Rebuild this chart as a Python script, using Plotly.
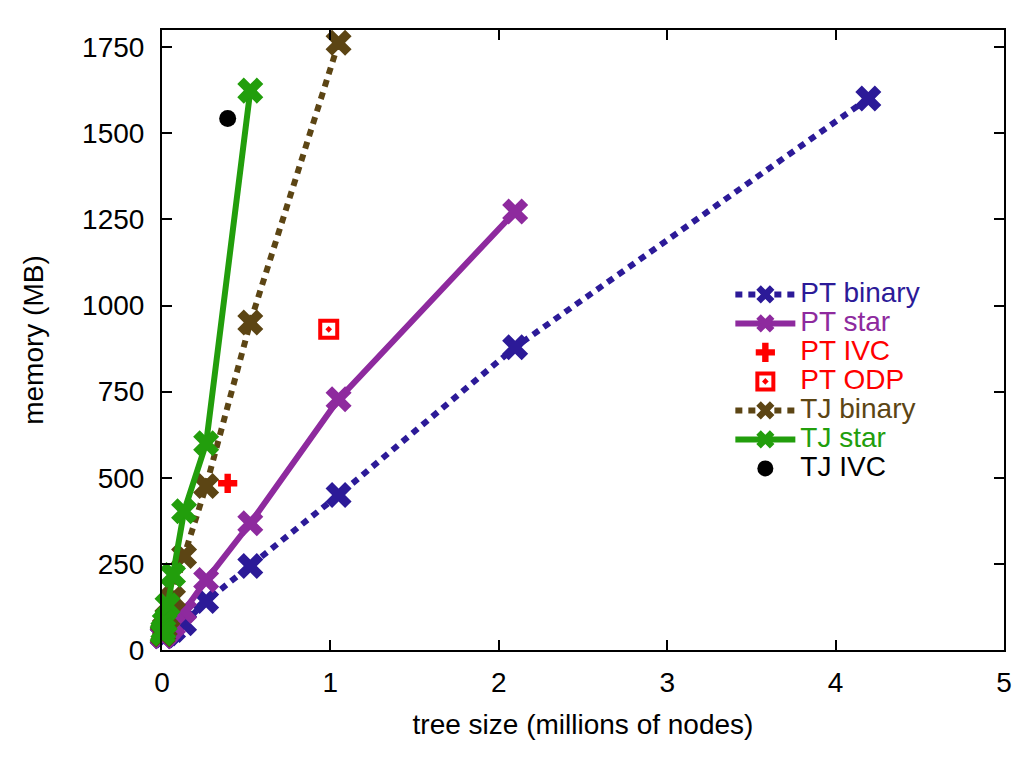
import plotly.graph_objects as go

# tree sizes (millions of nodes), powers of two
sizes_pt_binary = [2**k / 1e6 for k in range(22, 11, -1)]
mem_pt_binary = [1601, 879, 450, 244, 142, 78, 58, 48, 43, 41, 40]

sizes_pt_star = [2**k / 1e6 for k in range(21, 11, -1)]
mem_pt_star = [1273, 728, 368, 203, 113, 72, 55, 46, 42, 40]

sizes_tj_binary = [2**k / 1e6 for k in range(20, 11, -1)]
mem_tj_binary = [1763, 951, 476, 273, 150, 95, 65, 52, 45]

sizes_tj_star = [2**k / 1e6 for k in range(19, 11, -1)]
mem_tj_star = [1624, 600, 403, 218, 130, 80, 58, 48]

pt_ivc_x = [0.39]
pt_ivc_y = [484]
pt_odp_x = [0.99]
pt_odp_y = [931]
tj_ivc_x = [0.39]
tj_ivc_y = [1543]

y_ticks = [0, 250, 500, 750, 1000, 1250, 1500, 1750]

C_PTB = "#2c1a98"
C_PTS = "#8e2a9e"
C_RED = "#ff0000"
C_TJB = "#5c4514"
C_TJS = "#229e0c"
C_BLK = "#000000"

FONT = "Liberation Sans, Arial, Helvetica, sans-serif"

fig = go.Figure()

def lbl(t, c):
    return f"<span style='color:{c};font-size:28px'>{t}</span>"

XS = 23
LW = 6
DOT = "7px,6px"

fig.add_trace(go.Scatter(x=sizes_pt_binary, y=mem_pt_binary, mode="lines+markers",
                         name=lbl("PT binary", C_PTB),
                         line=dict(color=C_PTB, width=LW, dash=DOT),
                         marker=dict(symbol="x", size=XS, color=C_PTB), cliponaxis=False))
fig.add_trace(go.Scatter(x=sizes_pt_star, y=mem_pt_star, mode="lines+markers",
                         name=lbl("PT star", C_PTS),
                         line=dict(color=C_PTS, width=LW),
                         marker=dict(symbol="x", size=XS, color=C_PTS), cliponaxis=False))
fig.add_trace(go.Scatter(x=pt_ivc_x, y=pt_ivc_y, mode="markers",
                         name=lbl("PT IVC", C_RED),
                         marker=dict(symbol="cross", size=16, color=C_RED), cliponaxis=False))
fig.add_trace(go.Scatter(x=pt_odp_x, y=pt_odp_y, mode="markers",
                         name=lbl("PT ODP", C_RED),
                         marker=dict(symbol="square-open-dot", size=17, color=C_RED,
                                     line=dict(width=4, color=C_RED)), cliponaxis=False))
fig.add_trace(go.Scatter(x=sizes_tj_binary, y=mem_tj_binary, mode="lines+markers",
                         name=lbl("TJ binary", C_TJB),
                         line=dict(color=C_TJB, width=LW, dash=DOT),
                         marker=dict(symbol="x", size=XS, color=C_TJB), cliponaxis=False))
fig.add_trace(go.Scatter(x=sizes_tj_star, y=mem_tj_star, mode="lines+markers",
                         name=lbl("TJ star", C_TJS),
                         line=dict(color=C_TJS, width=LW),
                         marker=dict(symbol="x", size=XS, color=C_TJS), cliponaxis=False))
fig.add_trace(go.Scatter(x=tj_ivc_x, y=tj_ivc_y, mode="markers",
                         name=lbl("TJ IVC", C_BLK),
                         marker=dict(symbol="circle", size=17, color=C_BLK), cliponaxis=False))

axis_common = dict(showline=True, linecolor="black", linewidth=2, mirror="ticks",
                   ticks="inside", ticklen=10, tickwidth=1.5, tickcolor="black",
                   showgrid=False, zeroline=False,
                   tickfont=dict(family=FONT, size=28, color="black"))

fig.update_layout(
    width=1024, height=768,
    margin=dict(l=162, r=16, t=30, b=118),
    paper_bgcolor="white", plot_bgcolor="white",
    font=dict(family=FONT, size=28, color="black"),
    xaxis=dict(range=[0, 5], dtick=1, ticklabelstandoff=6,
               title=dict(text="tree size (millions of nodes)", font=dict(size=28), standoff=18),
               **axis_common),
    yaxis=dict(range=[0, 1800], tickvals=y_ticks, ticklabelstandoff=10,
               title=dict(text="memory (MB)", font=dict(size=28), standoff=30),
               **axis_common),
    legend=dict(x=0.675, y=0.605, xanchor="left", yanchor="top",
                bgcolor="rgba(0,0,0,0)", font=dict(size=20),
                tracegroupgap=0, itemwidth=60),
    showlegend=True,
)

fig.write_html("out.html")
